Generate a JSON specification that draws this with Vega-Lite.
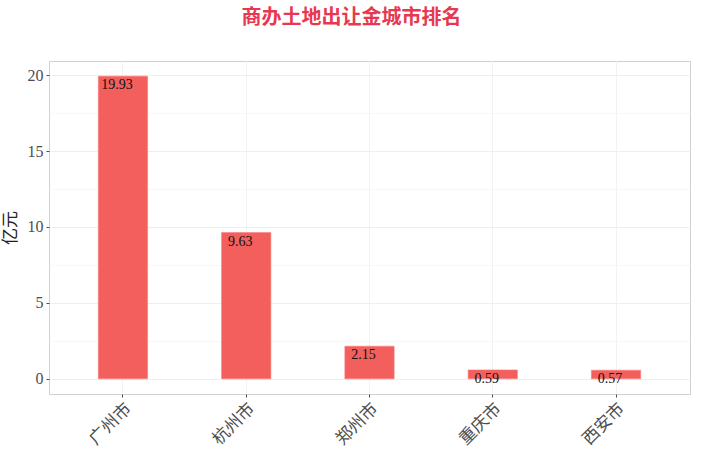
{
  "$schema": "https://vega.github.io/schema/vega-lite/v6.json",
  "autosize": "none",
  "padding": {"left": 49, "top": 61, "right": 22, "bottom": 63},
  "width": 641,
  "height": 333,
  "background": "white",
  "title": {
    "text": "商办土地出让金城市排名",
    "anchor": "middle",
    "dx": -18,
    "offset": 33,
    "fontSize": 20,
    "fontWeight": "bold",
    "font": "Noto Sans CJK SC",
    "color": "#e8384f"
  },
  "config": {
    "view": {"stroke": "#d0d0d0", "strokeWidth": 1},
    "axis": {
      "labelFont": "'Liberation Serif', 'Noto Sans CJK SC'",
      "titleFont": "'Liberation Serif', 'Noto Sans CJK SC'",
      "labelColor": "#4d4d4d",
      "tickColor": "#4d4d4d",
      "domain": false,
      "tickSize": 3
    }
  },
  "data": {
    "values": [
      {"city": "广州市", "value": 19.93},
      {"city": "杭州市", "value": 9.63},
      {"city": "郑州市", "value": 2.15},
      {"city": "重庆市", "value": 0.59},
      {"city": "西安市", "value": 0.57}
    ]
  },
  "encoding": {
    "x": {
      "field": "city",
      "type": "nominal",
      "sort": null,
      "scale": {"paddingInner": 0.6, "paddingOuter": 0.4},
      "axis": {
        "title": null,
        "labelAngle": -45,
        "labelAlign": "right",
        "labelBaseline": "top",
        "labelFontSize": 17,
        "labelPadding": 3,
        "grid": true,
        "gridColor": "#f2f2f2",
        "bandPosition": 0.5
      }
    },
    "y": {
      "field": "value",
      "type": "quantitative",
      "scale": {"domain": [-0.9965, 20.9265], "nice": false, "zero": false},
      "axis": {
        "title": "亿元",
        "titleFontSize": 17,
        "titleFontWeight": "normal",
        "titleColor": "#222222",
        "titlePadding": 8,
        "labelFontSize": 16,
        "labelPadding": 3,
        "values": [0, 2.5, 5, 7.5, 10, 12.5, 15, 17.5, 20],
        "labelExpr": "datum.value % 5 === 0 ? datum.label : ''",
        "tickOpacity": {"condition": {"test": "datum.value % 5 !== 0", "value": 0}, "value": 1},
        "gridColor": {"condition": {"test": "datum.value % 5 !== 0", "value": "#f7f7f7"}, "value": "#efefef"}
      }
    }
  },
  "layer": [
    {
      "mark": {"type": "bar", "color": "#f25f5c", "stroke": "#f8807c", "strokeWidth": 0.6}
    },
    {
      "mark": {
        "type": "text",
        "align": "center",
        "baseline": "top",
        "dx": -6,
        "dy": 2,
        "font": "'Liberation Serif'",
        "fontSize": 14,
        "color": "#111111"
      },
      "encoding": {"text": {"field": "value", "type": "quantitative", "format": ".2f"}}
    }
  ]
}
